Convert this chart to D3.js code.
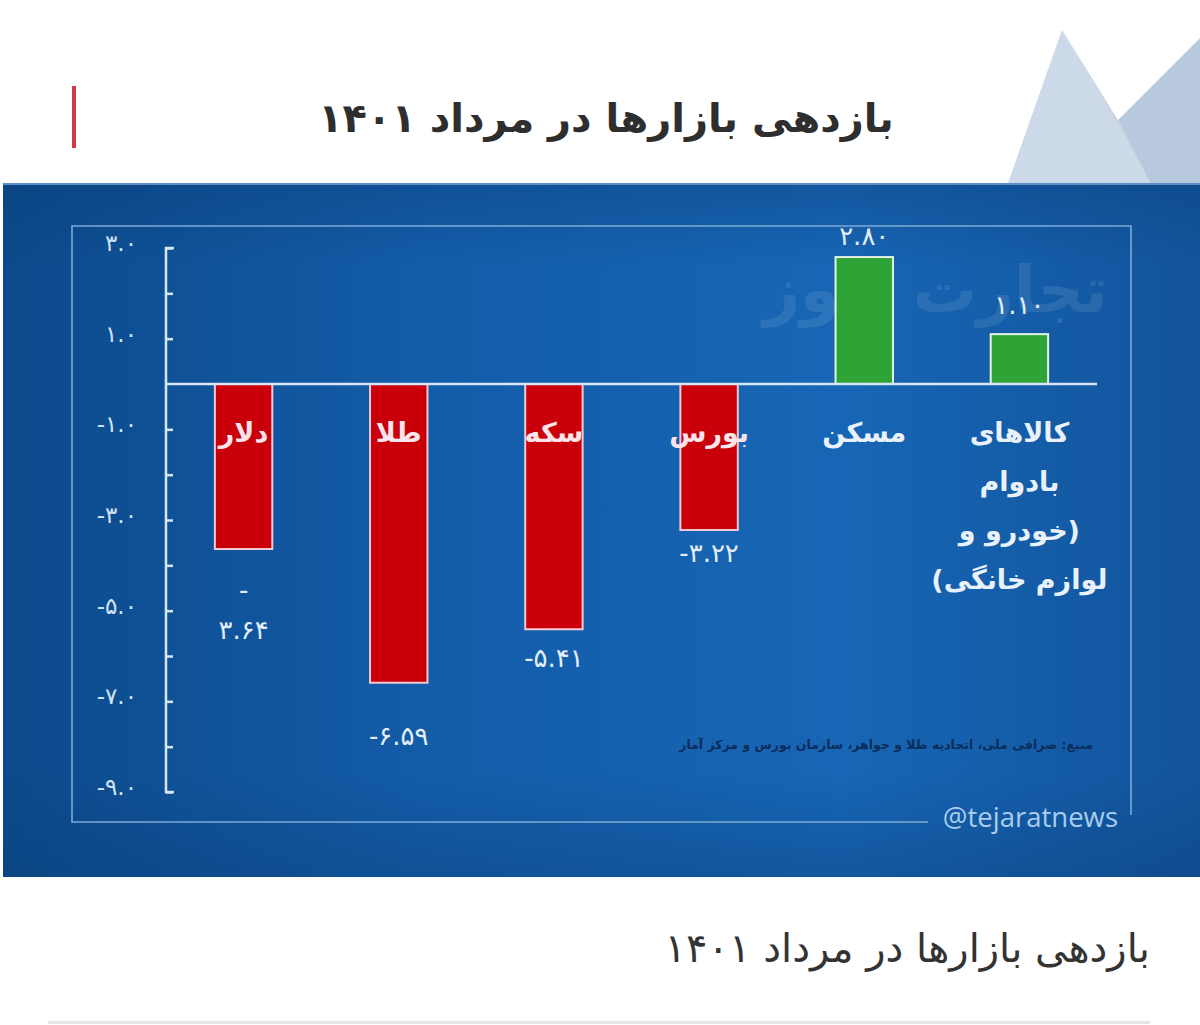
<!DOCTYPE html>
<html><head><meta charset="utf-8">
<script src="https://cdn.jsdelivr.net/npm/d3@7"></script>
<style>
html,body{margin:0;padding:0;background:#fff;}
svg{display:block;}
</style></head>
<body>
<script>
// ---- data ----
const categories = ["دلار","طلا","سکه","بورس","مسکن","کالاهای بادوام (خودرو و لوازم خانگی)"];
const categoryLines = [["دلار"],["طلا"],["سکه"],["بورس"],["مسکن"],["کالاهای","بادوام","(خودرو و","لوازم خانگی)"]];
const values = [-3.64, -6.59, -5.41, -3.22, 2.80, 1.10];
const valueLabelLines = [["-","۳.۶۴"],["-۶.۵۹"],["-۵.۴۱"],["-۳.۲۲"],["۲.۸۰"],["۱.۱۰"]];
const tickValues = [3, 1, -1, -3, -5, -7, -9];
const tickLabels = ["۳.۰","۱.۰","-۱.۰","-۳.۰","-۵.۰","-۷.۰","-۹.۰"];
const minorTicks = [3,2,1,-1,-2,-3,-4,-5,-6,-7,-8,-9];
const titleText = "بازدهی بازارها در مرداد ۱۴۰۱";
const sourceText = "منبع: صرافی ملی، اتحادیه طلا و جواهر، سازمان بورس و مرکز آمار";
const watermark = "تجارت نیوز";
const handle = "@tejaratnews";

// ---- layout ----
const W = 1200, H = 1025;
const FA = "'DejaVu Sans', sans-serif";
const svg = d3.select("body").append("svg").attr("width", W).attr("height", H);
const defs = svg.append("defs");

const g1 = defs.append("linearGradient").attr("id","panelGrad").attr("x1","0").attr("x2","1").attr("y1","0").attr("y2","0");
g1.append("stop").attr("offset","0").attr("stop-color","#0c4a8b");
g1.append("stop").attr("offset","0.35").attr("stop-color","#135ca8");
g1.append("stop").attr("offset","0.7").attr("stop-color","#1766b5");
g1.append("stop").attr("offset","1").attr("stop-color","#12549c");
const g2 = defs.append("linearGradient").attr("id","panelShade").attr("x1","0").attr("x2","0").attr("y1","0").attr("y2","1");
g2.append("stop").attr("offset","0").attr("stop-color","#0a3c75").attr("stop-opacity",0.35);
g2.append("stop").attr("offset","0.12").attr("stop-color","#0a3c75").attr("stop-opacity",0);
g2.append("stop").attr("offset","0.85").attr("stop-color","#0a3c75").attr("stop-opacity",0);
g2.append("stop").attr("offset","1").attr("stop-color","#0a3c75").attr("stop-opacity",0.35);

// decorative triangles top right
svg.append("polygon").attr("points","1062,30 1008,183 1150,183").attr("fill","#c6d5e6").attr("opacity",0.9);
svg.append("polygon").attr("points","1200,38 1118,120 1150,183 1200,183").attr("fill","#b0c3d9").attr("opacity",0.9);
svg.append("polygon").attr("points","1062,30 1150,183 1118,120").attr("fill","#a6bad1").attr("opacity",0.6);

// title
svg.append("rect").attr("x",72).attr("y",86).attr("width",4).attr("height",62).attr("fill","#d23a46");
svg.append("text").attr("x",606).attr("y",132).attr("text-anchor","middle").attr("direction","rtl")
  .attr("font-family",FA).attr("font-weight","bold").attr("font-size",40).attr("fill","#2e2e2e").text(titleText);

// panel
svg.append("rect").attr("x",3).attr("y",183).attr("width",1197).attr("height",694).attr("fill","url(#panelGrad)");
svg.append("rect").attr("x",3).attr("y",183).attr("width",1197).attr("height",694).attr("fill","url(#panelShade)");
svg.append("line").attr("x1",3).attr("x2",1200).attr("y1",184).attr("y2",184).attr("stroke","#5d8fc4").attr("stroke-width",2);

// inner frame
svg.append("path").attr("d","M928,822 H72 V226 H1131 V815").attr("fill","none").attr("stroke","#7fa9d6").attr("stroke-width",1.6);

// watermark
svg.append("text").attr("x",1108).attr("y",312).attr("text-anchor","start").attr("direction","rtl")
  .attr("font-family",FA).attr("font-weight","bold").attr("font-size",64).attr("fill","#ffffff").attr("opacity",0.09).text(watermark);

// scales
const y = d3.scaleLinear().domain([3, -9]).range([248, 792]);
const x = d3.scaleBand().domain(categories).range([166, 1097]).paddingInner(0.63).paddingOuter(0.315);

const axisColor = "#d6e6f6";
// y axis
const yAxis = d3.axisRight(y).tickValues(minorTicks).tickSize(7).tickFormat("");
const ag = svg.append("g").attr("transform","translate(166,0)").call(yAxis);
ag.select(".domain").attr("stroke",axisColor).attr("stroke-width",2.5).attr("d",`M8,${y(3)}H0V${y(-9)}H8`);
ag.selectAll(".tick line").attr("stroke",axisColor).attr("stroke-width",2.5);

// tick labels
svg.append("g").selectAll("text").data(tickValues).join("text")
  .attr("x",137).attr("y",(d)=>y(d)+3).attr("text-anchor","end").attr("direction","ltr")
  .attr("font-family",FA).attr("font-size",23).attr("fill","#d3e3f4")
  .text((d,i)=>tickLabels[i]);

// bars
const bars = svg.append("g");
bars.selectAll("rect").data(values).join("rect")
  .attr("x",(d,i)=>x(categories[i]))
  .attr("width",x.bandwidth())
  .attr("y",(d)=>y(Math.max(0,d)))
  .attr("height",(d)=>Math.abs(y(d)-y(0)))
  .attr("fill",(d)=>d<0?"#c90009":"#2ea336")
  .attr("stroke",(d)=>d<0?"#f3c9d2":"#e4f4e2")
  .attr("stroke-width",2);

// zero line
svg.append("line").attr("x1",166).attr("x2",1097).attr("y1",y(0)).attr("y2",y(0)).attr("stroke",axisColor).attr("stroke-width",2.5);

// category labels
const cg = svg.append("g");
categoryLines.forEach((lines,i)=>{
  const cx = x(categories[i]) + x.bandwidth()/2;
  lines.forEach((ln,j)=>{
    cg.append("text").attr("x",cx).attr("y",y(0)+58+j*49).attr("text-anchor","middle").attr("direction","rtl")
      .attr("font-family",FA).attr("font-weight","bold").attr("font-size",27)
      .attr("fill", values[i]<0 ? "#fbe4ea" : "#e9f2fc").text(ln);
  });
});

// value labels
const labelGap = [50, 62, 38, 32, 12, 20];
const vg = svg.append("g");
valueLabelLines.forEach((lines,i)=>{
  const cx = x(categories[i]) + x.bandwidth()/2;
  const v = values[i];
  lines.forEach((ln,j)=>{
    const yy = v<0 ? y(v) + labelGap[i] + j*40 : y(v) - labelGap[i] + (j-(lines.length-1))*40;
    vg.append("text").attr("x",cx).attr("y",yy).attr("text-anchor","middle").attr("direction","ltr")
      .attr("font-family",FA).attr("font-size",26).attr("fill","#e3eefa").text(ln);
  });
});

// source
svg.append("text").attr("x",1093).attr("y",749).attr("text-anchor","start").attr("direction","rtl")
  .attr("font-family",FA).attr("font-weight","bold").attr("font-size",12.5).attr("fill","#0b2d5b").text(sourceText);

// handle
svg.append("text").attr("x",1118).attr("y",827).attr("text-anchor","end")
  .attr("font-family","'Open Sans', sans-serif").attr("font-size",27.5).attr("fill","#a8cdf0").text(handle);

// caption
svg.append("text").attr("x",1150).attr("y",962).attr("text-anchor","start").attr("direction","rtl")
  .attr("font-family",FA).attr("font-size",40).attr("fill","#333").text(titleText);
svg.append("rect").attr("x",48).attr("y",1021).attr("width",1102).attr("height",3).attr("fill","#e6e6e6");
</script>
</body></html>
